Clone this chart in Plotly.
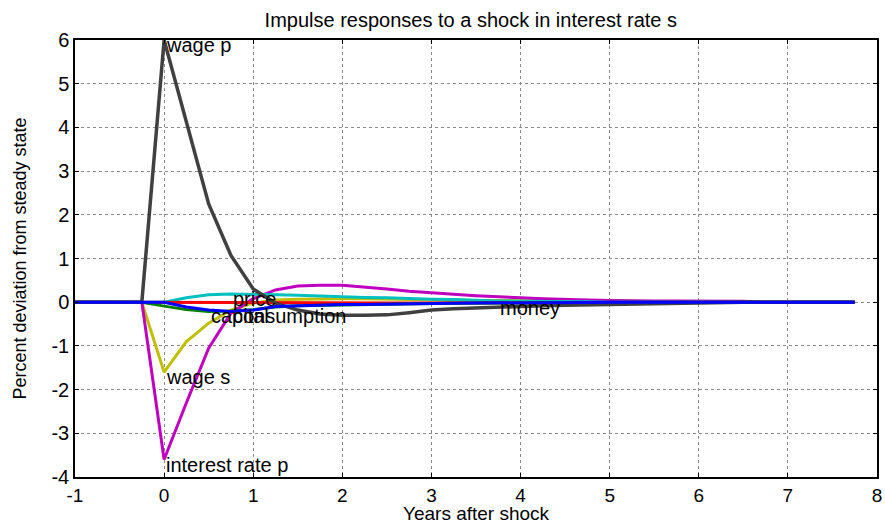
import plotly.graph_objects as go

# Quarterly time axis in years: four quarters of steady state before the shock, then 32 quarters after
years = [-1.0, -0.75, -0.5, -0.25] + [q * 0.25 for q in range(32)]
pre = [0, 0, 0, 0]

wage_p = pre + [6.0, 4.1, 2.25, 1.07, 0.3, -0.02, -0.18, -0.27, -0.3, -0.3,
                -0.29, -0.24, -0.18, -0.15, -0.13, -0.11, -0.1, -0.08, -0.07, -0.06,
                -0.05, -0.04, -0.03, -0.02, -0.01, -0.01, 0, 0, 0, 0, 0, 0]
interest_rate_p = pre + [-3.6, -2.3, -1.05, -0.25, 0.08, 0.28, 0.37, 0.39, 0.39, 0.35,
                         0.3, 0.25, 0.21, 0.18, 0.15, 0.12, 0.1, 0.08, 0.06, 0.05,
                         0.04, 0.03, 0.03, 0.03, 0.03, 0.02, 0.02, 0, 0, 0, 0, 0]
wage_s = pre + [-1.6, -0.9, -0.48, -0.18, -0.02, 0.05, 0.07, 0.08, 0.08, 0.08,
                0.07, 0.06, 0.05, 0.05, 0.04, 0.04, 0.03, 0.03, 0.03, 0.02,
                0.02, 0.02, 0.01, 0.01, 0, 0, 0, 0, 0, 0, 0, 0]
price = pre + [0.0, 0.1, 0.17, 0.19, 0.185, 0.18, 0.16, 0.14, 0.12, 0.11,
               0.1, 0.08, 0.07, 0.06, 0.04, 0.03, 0.02, 0.02, 0.01, 0.01,
               0, 0, 0, 0, 0, 0, 0, 0, 0, 0, 0, 0]
money = pre + [0.0, -0.002, -0.004, -0.005, -0.007, -0.009, -0.01, -0.012, -0.013, -0.015,
               -0.016, -0.018, -0.019, -0.021, -0.022, -0.023, -0.02, -0.016, -0.012, -0.008,
               -0.005, -0.003, -0.001, 0, 0, 0, 0, 0, 0, 0, 0, 0]
capital = pre + [-0.09, -0.17, -0.21, -0.2, -0.17, -0.11, -0.08, -0.07, -0.055, -0.05,
                 -0.04, -0.035, -0.03, -0.025, -0.02, -0.02, -0.015, -0.01, -0.01, -0.005,
                 0, 0, 0, 0, 0, 0, 0, 0, 0, 0, 0, 0]
consumption = pre + [0.0, -0.11, -0.18, -0.21, -0.18, -0.1, -0.08, -0.07, -0.055, -0.05,
                     -0.04, -0.035, -0.03, -0.025, -0.02, -0.02, -0.015, -0.01, -0.01, -0.005,
                     0, 0, 0, 0, 0, 0, 0, 0, 0, 0, 0, 0]

# Axis ticks (labels written with a plain hyphen for negatives)
x_ticks = [-1, 0, 1, 2, 3, 4, 5, 6, 7, 8]
x_tick_labels = ["-1", "0", "1", "2", "3", "4", "5", "6", "7", "8"]
y_ticks = [-4, -3, -2, -1, 0, 1, 2, 3, 4, 5, 6]
y_tick_labels = ["-4", "-3", "-2", "-1", "0", "1", "2", "3", "4", "5", "6"]

# name, values, colour, width (drawing order: later traces sit on top)
series = [
    ("wage s", wage_s, "rgb(191,191,0)", 3),
    ("interest rate p", interest_rate_p, "rgb(191,0,191)", 3),
    ("price", price, "rgb(0,191,191)", 3),
    ("money", money, "rgb(255,0,0)", 3),
    ("capital", capital, "rgb(0,128,0)", 3),
    ("wage p", wage_p, "rgb(64,64,64)", 3.5),
    ("consumption", consumption, "rgb(0,0,255)", 3),
]

FONT = "Liberation Sans, Arial, sans-serif"
fig = go.Figure()
for name, vals, color, w in series:
    fig.add_trace(go.Scatter(x=years, y=vals, mode="lines", name=name,
                             line=dict(color=color, width=w), hoverinfo="skip"))

# Each curve is labelled at its largest absolute response
annotations = []
for name, vals, color, w in series:
    k = max(range(len(vals)), key=lambda i: abs(vals[i]))
    annotations.append(dict(x=years[k], y=vals[k], xref="x", yref="y", text=name,
                            showarrow=False, xanchor="left", yanchor="middle",
                            yshift=-5,
                            font=dict(family=FONT, size=20, color="black")))

# x-axis caption placed just below the tick labels
annotations.append(dict(x=0.5, y=0, xref="paper", yref="paper", text="Years after shock",
                        showarrow=False, xanchor="center", yanchor="middle", yshift=-36.5,
                        font=dict(family=FONT, size=19, color="black")))

axis_common = dict(showline=True, linecolor="black", linewidth=1.5, mirror="ticks",
                   ticks="inside", ticklen=4, tickcolor="black", automargin=False,
                   showgrid=True, gridcolor="#8a8a8a", griddash="dot", gridwidth=1,
                   zeroline=False)

fig.update_layout(
    width=885, height=523,
    margin=dict(l=75, r=8, t=40, b=46),
    paper_bgcolor="white", plot_bgcolor="white",
    showlegend=False,
    title=dict(text="Impulse responses to a shock in interest rate s",
               x=0.532, xanchor="center", y=0.962, yanchor="middle",
               font=dict(family=FONT, size=20, color="black")),
    xaxis=dict(range=[-1, 8], tickmode="array", tickvals=x_ticks, ticktext=x_tick_labels,
               tickfont=dict(family=FONT, size=19, color="black"), **axis_common),
    yaxis=dict(range=[-4, 6], tickmode="array", tickvals=y_ticks, ticktext=y_tick_labels,
               tickfont=dict(family=FONT, size=20, color="black"),
               title=dict(text="Percent deviation from steady state", standoff=20,
                          font=dict(family=FONT, size=18, color="black")),
               **axis_common),
    annotations=annotations,
)

fig.write_html("out.html")
